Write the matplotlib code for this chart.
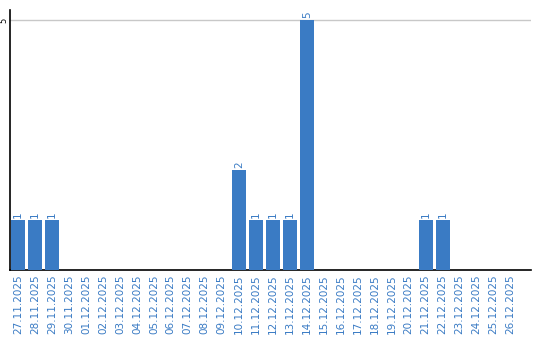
import matplotlib
matplotlib.use("Agg")
import matplotlib.pyplot as plt

dates = ["27.11.2025", "28.11.2025", "29.11.2025", "30.11.2025"] + \
        ["%02d.12.2025" % d for d in range(1, 27)]
values = [1, 1, 1, 0, 0, 0, 0, 0, 0, 0, 0, 0, 0, 2, 1, 1, 1, 5,
          0, 0, 0, 0, 0, 0, 1, 1, 0, 0, 0, 0]
yticks = [5]

bar_color = "#3a7bc4"
text_color = "#3a7bc4"

fig = plt.figure(figsize=(5.4, 3.4), dpi=100)
ax = fig.add_axes([10/540, 70/340, 521/540, 260/340])
x = list(range(len(dates)))
bars = ax.bar(x, values, width=0.82, color=bar_color, zorder=3)
for xi, v in zip(x, values):
    if v > 0:
        ax.text(xi, v + 0.04, str(v), rotation=90, ha="center", va="bottom",
                fontsize=7.5, color=text_color, zorder=4)

ax.set_xlim(-0.47, 30.2)
ax.set_ylim(0, 5.2)
ax.set_yticks(yticks)
ax.set_yticklabels([str(t) for t in yticks], rotation=90, va="center", fontsize=6)
ax.tick_params(axis="y", length=0, pad=1.5)
ax.yaxis.grid(True, color="#c8c8c8", linewidth=1, zorder=0)
ax.set_xticks(x)
ax.set_xticklabels(dates, rotation=90, fontsize=7.5, color=text_color)
ax.tick_params(axis="x", length=0, pad=3)
for s in ["top", "right"]:
    ax.spines[s].set_visible(False)
ax.spines["left"].set_linewidth(1.2)
ax.spines["bottom"].set_linewidth(1.2)

fig.savefig("out.png", dpi=100)
